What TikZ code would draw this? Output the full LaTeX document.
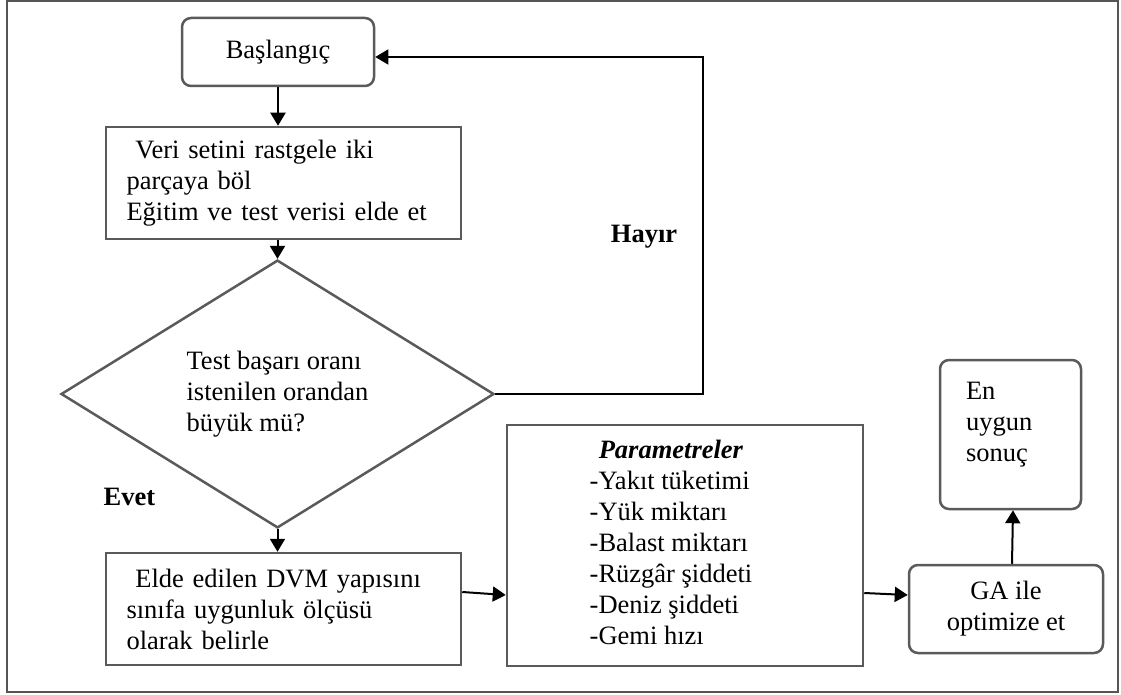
\documentclass[tikz,border=0pt]{standalone}
\usepackage{fontspec}
\setmainfont{Liberation Serif}
\usetikzlibrary{shapes.geometric,arrows.meta}
\definecolor{boxgray}{HTML}{5A5A5A}
\definecolor{framegray}{HTML}{555555}

\begin{document}
\begin{tikzpicture}[x=1pt, y=-1pt,
    every node/.style={font=\fontsize{26.5}{31}\selectfont},
    stepbox/.style={draw=boxgray, line width=2.5pt, inner ysep=0pt, align=left},
    roundbox/.style={stepbox, rounded corners=9pt},
    decision/.style={diamond, draw=boxgray, line width=2.5pt, inner sep=0pt},
    answer/.style={font=\fontsize{26.5}{31}\selectfont\bfseries},
    arr/.style={line width=2pt, -{Triangle[length=13pt, width=15pt]}}]
        \useasboundingbox (0,0) rectangle (1121,695);
        % Frame
        \draw[framegray, line width=1.5pt] (7,1) rectangle (1118,692);

        % Steps
        \node[roundbox, minimum width=192pt, minimum height=68pt, align=center] (start) at (278,52) {Başlangıç};
        \node[stepbox, text width=314pt, inner xsep=20.5pt, minimum height=112pt] (split) at (283.5,183)
            {\ Veri setini rastgele iki\\ parçaya böl\\ Eğitim ve test verisi elde et};
        \node[decision, minimum width=433pt, minimum height=228pt, align=left] (test) at (277.5,394)
            {Test başarı oranı\\ istenilen orandan\\ büyük mü?};
        \node[stepbox, text width=314pt, inner xsep=20.5pt, minimum height=112pt] (dvm) at (283.5,609)
            {\ Elde edilen DVM yapısını\\ sınıfa uygunluk ölçüsü\\ olarak belirle};
        \node[stepbox, inner xsep=0pt, minimum width=356pt, minimum height=241pt] (param) at (685,545.5)
            {\begin{tabular}{@{}l@{}}
                \multicolumn{1}{@{}c@{}}{\textbf{\textit{Parametreler}}}\\
                -Yakıt tüketimi\\ -Yük miktarı\\ -Balast miktarı\\
                -Rüzgâr şiddeti\\ -Deniz şiddeti\\ -Gemi hızı
             \end{tabular}\hspace*{28pt}};
        \node[roundbox, minimum width=194pt, minimum height=88pt, align=center] (ga) at (1006,609) {GA ile\\ optimize et};
        \node[roundbox, text width=89pt, inner xsep=26pt, minimum height=149pt, text depth=88pt] (best) at (1010.5,434.5)
            {En\\ uygun\\ sonuç};

        % Answers
        \node[answer] (no) at (644,237) {Hayır};
        \node[answer] (yes) at (129.5,497) {Evet};

        % Connectors
        \draw[arr] (start.south) -- (start.south |- split.north);
        \draw[arr] (test.north |- split.south) -- (test.north);
        \draw[arr] (test.south) -- (test.south |- dvm.north);
        \coordinate (ret) at (703,394);
        \draw[arr, line width=1.5pt] (test.east) -- (ret) |- ([yshift=-5pt]start.east);
        \draw[arr] ([yshift=17pt]dvm.east) -- ([yshift=-49.5pt]param.west);
        \draw[arr] ([yshift=-47.5pt]param.east) -- ([yshift=14pt]ga.west);
        \draw[arr] ([xshift=6pt]ga.north) -- ([xshift=2.5pt]best.south);
    \end{tikzpicture}
\end{document}
